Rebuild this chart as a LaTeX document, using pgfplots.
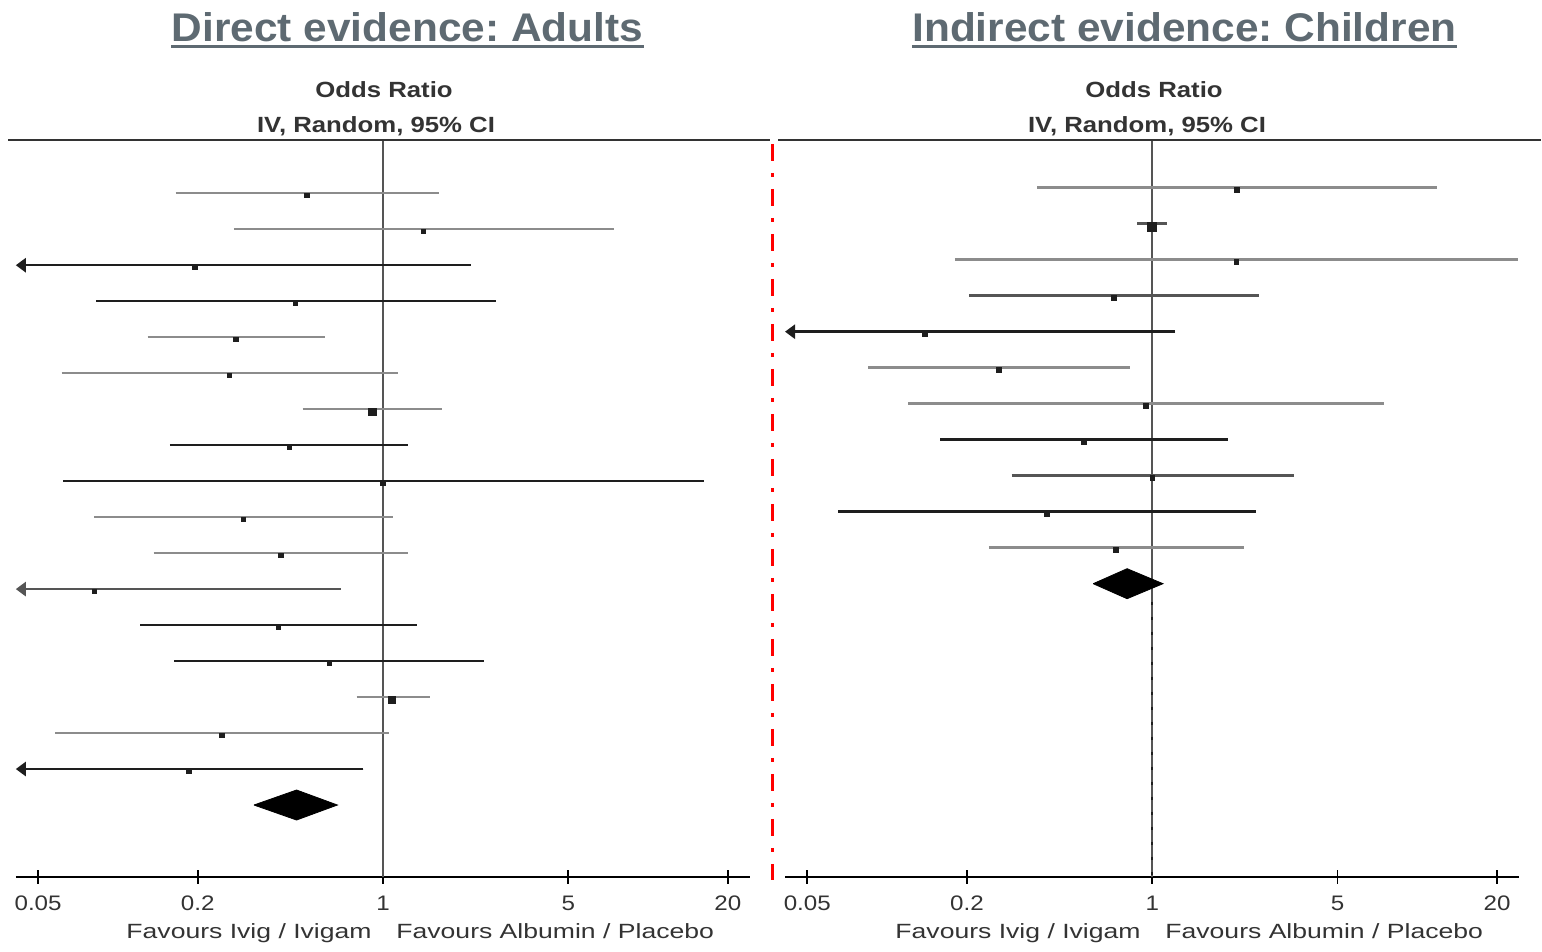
\documentclass[border=0pt]{standalone}
\usepackage{fontspec}
\setmainfont{Liberation Sans}
\newfontfamily\titlefam[FakeStretch=1.06]{Liberation Sans}
\newfontfamily\hdrfam[FakeStretch=1.17]{Liberation Sans}
\newfontfamily\tickfam[FakeStretch=1.15]{Liberation Sans}
\newfontfamily\favfam[FakeStretch=1.29]{Liberation Sans}
\usepackage{pgfplots}
\pgfplotsset{compat=1.18}
\usetikzlibrary{arrows.meta}
\frenchspacing
\definecolor{titlegray}{HTML}{5E6A72}
\definecolor{cigray}{HTML}{8C8C8C}
\definecolor{cimid}{HTML}{555555}
\definecolor{ciblack}{HTML}{1E1E1E}
\definecolor{hdr}{HTML}{333333}
\definecolor{refline}{HTML}{555555}
\tikzset{
  cibar/.style={line width=1.25pt, draw=#1},
  ciarr/.style={line width=1.25pt, draw=#1, fill=#1, -{Triangle[length=5pt,width=7pt]}},
}
\begin{document}
\begin{tikzpicture}
\useasboundingbox (0,0) rectangle (771pt,476pt);
% ---------------- Left panel ----------------
\begin{semilogxaxis}[
    scale only axis, width=367.2pt, height=368.5pt,
    anchor=south west, at={(7.9pt,37.5pt)},
    xmin=0.0412, xmax=24.27, ymin=-20, ymax=0.48,
    axis x line*=bottom, axis y line=none,
    axis line style={black, line width=1.1pt},
    xtick={0.05,0.2,1,5,20},
    xticklabels={0.05,0.2,1,5,20},
    minor xtick={},
    tick align=center, major tick length=7pt,
    tick style={black, line width=0.9pt},
    xticklabel style={font=\tickfam\fontsize{10.5}{12}\selectfont, text=hdr, yshift=-2.5pt},
    clip=false]
\draw[refline, line width=1pt] (axis cs:1,-20) -- (axis cs:1,0.48);
\addplot[cibar=cigray, mark=none]  coordinates {(0.165,-1) (1.62,-1)};
\addplot[cibar=cigray, mark=none]  coordinates {(0.274,-2) (7.42,-2)};
\addplot[ciarr=ciblack, mark=none] coordinates {(2.14,-3) (0.0412,-3)};
\addplot[cibar=ciblack, mark=none] coordinates {(0.083,-4) (2.66,-4)};
\addplot[cibar=cigray, mark=none]  coordinates {(0.1296,-5) (0.602,-5)};
\addplot[cibar=cigray, mark=none]  coordinates {(0.0613,-6) (1.14,-6)};
\addplot[cibar=cigray, mark=none]  coordinates {(0.497,-7) (1.67,-7)};
\addplot[cibar=ciblack, mark=none] coordinates {(0.157,-8) (1.245,-8)};
\addplot[cibar=ciblack, mark=none] coordinates {(0.0621,-9) (16.2,-9)};
\addplot[cibar=cigray, mark=none]  coordinates {(0.0816,-10) (1.086,-10)};
\addplot[cibar=cigray, mark=none]  coordinates {(0.1364,-11) (1.245,-11)};
\addplot[ciarr=cimid, mark=none]  coordinates {(0.694,-12) (0.0412,-12)};
\addplot[cibar=ciblack, mark=none] coordinates {(0.1215,-13) (1.345,-13)};
\addplot[cibar=ciblack, mark=none] coordinates {(0.163,-14) (2.41,-14)};
\addplot[cibar=cigray, mark=none]  coordinates {(0.795,-15) (1.51,-15)};
\addplot[cibar=cigray, mark=none]  coordinates {(0.058,-16) (1.054,-16)};
\addplot[ciarr=ciblack, mark=none] coordinates {(0.844,-17) (0.0412,-17)};
\addplot[only marks, mark=square*, mark size=1.1pt, mark options={draw=ciblack, fill=ciblack}] coordinates {(0.517,-1.06) (1.42,-2.06) (0.195,-3.06) (0.468,-4.06)
  (0.279,-5.06) (0.264,-6.06) (0.443,-8.06) (1.0,-9.06) (0.298,-10.06) (0.412,-11.06)
  (0.0816,-12.06) (0.403,-13.06) (0.629,-14.06) (0.247,-16.06) (0.185,-17.06)};
\addplot[only marks, mark=square*, mark size=1.8pt, mark options={draw=ciblack, fill=ciblack}] coordinates {(0.912,-7.08) (1.08,-15.08)};
\addplot[fill=black, draw=black, mark=none] coordinates {(0.326,-18) (0.472,-17.583) (0.673,-18) (0.472,-18.417) (0.326,-18)};
\end{semilogxaxis}
% ---------------- Right panel ----------------
\begin{semilogxaxis}[
    scale only axis, width=367.2pt, height=368.5pt,
    anchor=south west, at={(392.5pt,37.5pt)},
    xmin=0.0412, xmax=24.27, ymin=-20.147, ymax=0.325,
    axis x line*=bottom, axis y line=none,
    axis line style={black, line width=1.1pt},
    xtick={0.05,0.2,1,5,20},
    xticklabels={0.05,0.2,1,5,20},
    minor xtick={},
    tick align=center, major tick length=7pt,
    tick style={black, line width=0.9pt},
    xticklabel style={font=\tickfam\fontsize{10.5}{12}\selectfont, text=hdr, yshift=-2.5pt},
    clip=false]
\draw[refline, line width=1pt] (axis cs:1,-20.147) -- (axis cs:1,0.325);
\draw[ciblack, line width=1pt, dash pattern=on 1.5pt off 6pt] (axis cs:1,-12.5) -- (axis cs:1,-20.147);
\addplot[cibar=cigray, mark=none]  coordinates {(0.368,-1) (11.9,-1)};
\addplot[cibar=cimid, mark=none]   coordinates {(0.88,-2) (1.14,-2)};
\addplot[cibar=cigray, mark=none]  coordinates {(0.18,-3) (24.0,-3)};
\addplot[cibar=cimid, mark=none]   coordinates {(0.204,-4) (2.52,-4)};
\addplot[ciarr=ciblack, mark=none] coordinates {(1.22,-5) (0.0412,-5)};
\addplot[cibar=cigray, mark=none]  coordinates {(0.0848,-6) (0.825,-6)};
\addplot[cibar=cigray, mark=none]  coordinates {(0.120,-7) (7.47,-7)};
\addplot[cibar=ciblack, mark=none] coordinates {(0.159,-8) (1.93,-8)};
\addplot[cibar=cimid, mark=none]   coordinates {(0.295,-9) (3.44,-9)};
\addplot[cibar=ciblack, mark=none] coordinates {(0.0653,-10) (2.47,-10)};
\addplot[cibar=cigray, mark=none]  coordinates {(0.242,-11) (2.21,-11)};
\addplot[only marks, mark=square*, mark size=1.1pt, mark options={draw=ciblack, fill=ciblack}] coordinates {(2.09,-1.06) (2.08,-3.06) (0.717,-4.06) (0.139,-5.06)
  (0.264,-6.06) (0.946,-7.06) (0.552,-8.06) (1.0,-9.06) (0.401,-10.06) (0.729,-11.06)};
\addplot[only marks, mark=square*, mark size=2.3pt, mark options={draw=ciblack, fill=ciblack}] coordinates {(1.0,-2.08)};
\addplot[fill=black, draw=black, mark=none] coordinates {(0.599,-12) (0.804,-11.583) (1.098,-12) (0.804,-12.417) (0.599,-12)};
\end{semilogxaxis}
% ---------------- Decorations and text ----------------
\draw[hdr, line width=1.2pt] (4pt,406pt) -- (385pt,406pt);
\draw[hdr, line width=1.2pt] (389pt,406pt) -- (770.5pt,406pt);
\draw[red, line width=1.7pt, dash pattern=on 8.5pt off 6pt on 2pt off 6pt] (386.35pt,404pt) -- (386.35pt,36pt);
\node (t1) [anchor=base, inner sep=0pt, text=titlegray, font=\titlefam\bfseries\fontsize{20}{24}\selectfont] at (203.75pt,455pt) {Direct evidence: Adults};
\draw[titlegray, line width=1.3pt] ([yshift=-2.4pt]t1.base west) -- ([yshift=-2.4pt]t1.base east);
\node (t3) [anchor=base, inner sep=0pt, text=titlegray, font=\titlefam\bfseries\fontsize{20}{24}\selectfont] at (592.25pt,455pt) {Indirect evidence: Children};
\draw[titlegray, line width=1.3pt] ([yshift=-2.4pt]t3.base west) -- ([yshift=-2.4pt]t3.base east);
\node[anchor=base, inner sep=0pt, text=hdr, font=\hdrfam\bfseries\fontsize{11}{13}\selectfont] at (192pt,427.4pt) {Odds Ratio};
\node[anchor=base, inner sep=0pt, text=hdr, font=\hdrfam\bfseries\fontsize{11}{13}\selectfont] at (188pt,409.5pt) {IV, Random, 95\% CI};
\node[anchor=base, inner sep=0pt, text=hdr, font=\hdrfam\bfseries\fontsize{11}{13}\selectfont] at (577pt,427.4pt) {Odds Ratio};
\node[anchor=base, inner sep=0pt, text=hdr, font=\hdrfam\bfseries\fontsize{11}{13}\selectfont] at (573.5pt,409.5pt) {IV, Random, 95\% CI};
\node[anchor=base east, inner sep=0pt, text=hdr, font=\favfam\fontsize{10.3}{12}\selectfont] at (186pt,6.5pt) {Favours Ivig / Ivigam};
\node[anchor=base west, inner sep=0pt, text=hdr, font=\favfam\fontsize{10.3}{12}\selectfont] at (198pt,6.5pt) {Favours Albumin / Placebo};
\node[anchor=base east, inner sep=0pt, text=hdr, font=\favfam\fontsize{10.3}{12}\selectfont] at (570.5pt,6.5pt) {Favours Ivig / Ivigam};
\node[anchor=base west, inner sep=0pt, text=hdr, font=\favfam\fontsize{10.3}{12}\selectfont] at (582.5pt,6.5pt) {Favours Albumin / Placebo};
\end{tikzpicture}
\end{document}
